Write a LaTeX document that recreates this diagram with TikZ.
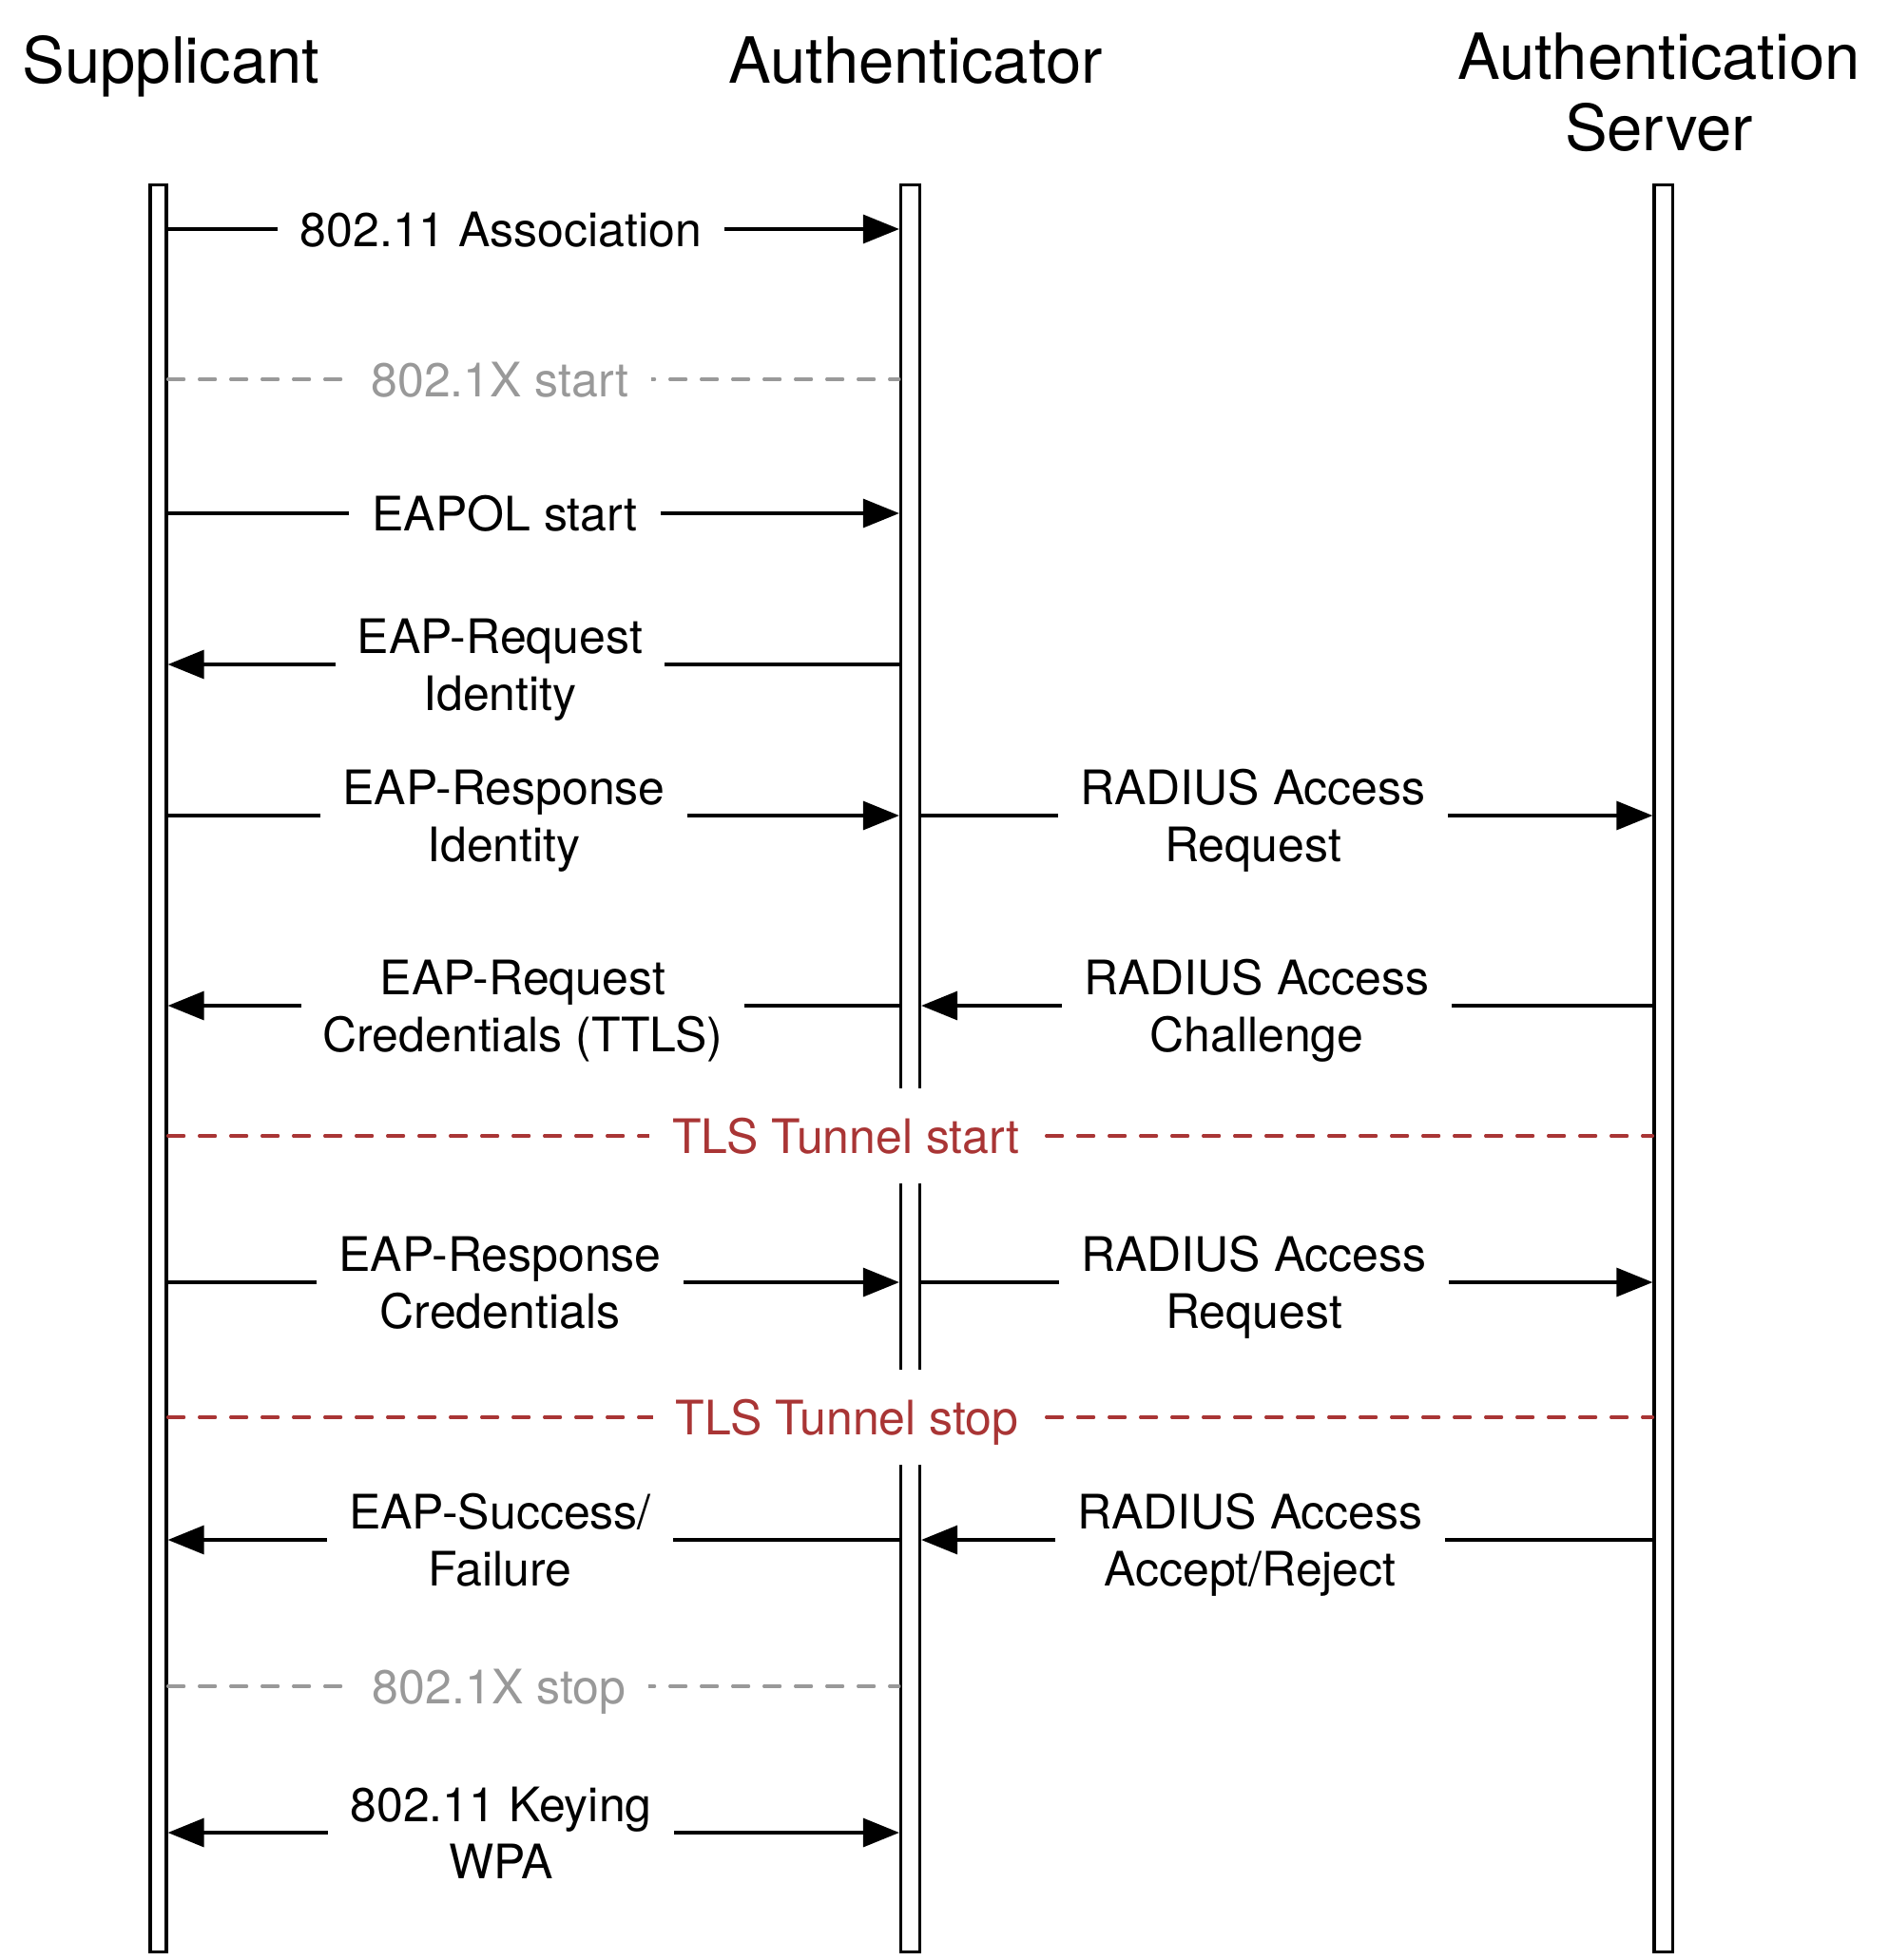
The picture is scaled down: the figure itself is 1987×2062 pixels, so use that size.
\documentclass[tikz,border=0pt]{standalone}
\usepackage{fontspec}
\setmainfont{TeX Gyre Heros}
\usetikzlibrary{arrows.meta}
\definecolor{tlsred}{HTML}{A93535}
\definecolor{phgray}{HTML}{999999}
\begin{document}
\begin{tikzpicture}[x=0.5pt,y=-0.5pt,
  hdr/.style={font=\fontsize{33.5}{37.5}\selectfont, align=center, anchor=base, inner sep=0pt},
  life/.style={draw, fill=white, line width=1.6pt, minimum height=929.75pt, inner sep=0pt, anchor=north},
  msg/.style={line width=1.6pt, -{Triangle[length=19pt,width=15pt]}},
  dmsg/.style={line width=1.6pt, {Triangle[length=19pt,width=15pt]}-{Triangle[length=19pt,width=15pt]}},
  phase/.style={line width=1.6pt, dash pattern=on 8.5pt off 8pt, line cap=round},
  lab1/.style={font=\fontsize{25}{30}\selectfont, fill=white, text height=18pt, text depth=0pt, inner xsep=12pt, inner ysep=16pt},
  lab2/.style={font=\fontsize{25}{30}\selectfont, fill=white, align=center, anchor=base, inner xsep=11.5pt, inner ysep=2pt}
]
\useasboundingbox (0,0) rectangle (1987,2062);
% headers
\node[hdr] (hS) at (180,87) {Supplicant};
\node[hdr] (hA) at (963,87) {Authenticator};
\node[hdr] (hV) at (1745,158) {Authentication\\Server};
% lifelines
\node[life, minimum width=8.5pt] (S) at (166.5,192.5) {};
\node[life, minimum width=10pt] (A) at (957.5,192.5) {};
\node[life, minimum width=9.75pt] (V) at (1749.75,192.5) {};
% 1
\draw[msg] (S.east |- 0,241) -- (A.west |- 0,241);
\node[lab1] (m1) at (527,241) {802.11 Association};
% 2
\draw[phase, draw=phgray] (S.east |- 0,399) -- (A.west |- 0,399);
\node[lab1, text=phgray] (p1) at (526,399) {802.1X start};
% 3
\draw[msg] (S.east |- 0,540) -- (A.west |- 0,540);
\node[lab1] (m2) at (531,540) {EAPOL start};
% 4
\draw[msg] (A.west |- 0,699) -- (S.east |- 0,699);
\node[lab2] (m3) at (526,747) {EAP-Request\\Identity};
% 5
\draw[msg] (S.east |- 0,858) -- (A.west |- 0,858);
\node[lab2] (m4) at (530,906) {EAP-Response\\Identity};
\draw[msg] (A.east |- 0,858) -- (V.west |- 0,858);
\node[lab2] (r1) at (1318,906) {RADIUS Access\\Request};
% 6
\draw[msg] (A.west |- 0,1058) -- (S.east |- 0,1058);
\node[lab2] (m5) at (550,1106) {EAP-Request\\Credentials (TTLS)};
\draw[msg] (V.west |- 0,1058) -- (A.east |- 0,1058);
\node[lab2] (r2) at (1322,1106) {RADIUS Access\\Challenge};
% 7
\draw[phase, draw=tlsred] (S.east |- 0,1195) -- (V.west |- 0,1195);
\node[lab1, text=tlsred] (t1) at (890,1195) {TLS Tunnel start};
% 8
\draw[msg] (S.east |- 0,1349) -- (A.west |- 0,1349);
\node[lab2] (m6) at (526,1397) {EAP-Response\\Credentials};
\draw[msg] (A.east |- 0,1349) -- (V.west |- 0,1349);
\node[lab2] (r3) at (1319,1397) {RADIUS Access\\Request};
% 9
\draw[phase, draw=tlsred] (S.east |- 0,1491) -- (V.west |- 0,1491);
\node[lab1, text=tlsred] (t2) at (891,1491) {TLS Tunnel stop};
% 10
\draw[msg] (A.west |- 0,1620) -- (S.east |- 0,1620);
\node[lab2] (m7) at (526,1668) {EAP-Success/\\Failure};
\draw[msg] (V.west |- 0,1620) -- (A.east |- 0,1620);
\node[lab2] (r4) at (1315,1668) {RADIUS Access\\Accept/Reject};
% 11
\draw[phase, draw=phgray] (S.east |- 0,1774) -- (A.west |- 0,1774);
\node[lab1, text=phgray] (p2) at (525,1774) {802.1X stop};
% 12
\draw[dmsg] (S.east |- 0,1928) -- (A.west |- 0,1928);
\node[lab2] (m8) at (527,1976) {802.11 Keying\\WPA};
\end{tikzpicture}
\end{document}
